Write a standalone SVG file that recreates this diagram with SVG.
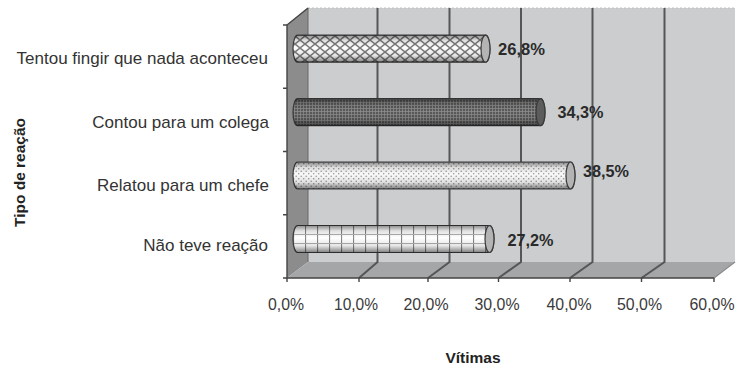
<svg xmlns="http://www.w3.org/2000/svg" width="737" height="365" viewBox="0 0 737 365">
<style>
.cat{font-family:"Liberation Sans",Arial,sans-serif;font-size:17px;fill:#333;text-anchor:end}
.ax{font-family:"Liberation Sans",Arial,sans-serif;font-size:16px;fill:#3a3a3a;text-anchor:middle}
.val{font-family:"Liberation Sans",Arial,sans-serif;font-size:16px;font-weight:bold;fill:#2a2a2a}
.ttl{font-family:"Liberation Sans",Arial,sans-serif;font-size:15.5px;font-weight:bold;fill:#222;text-anchor:middle}
.grid{stroke:#565656;stroke-width:2;fill:none}
.edge{stroke:#444;stroke-width:1.4;fill:none}
.bar{stroke:#3a3a3a;stroke-width:1.2}
.shade{fill:url(#cyl)}
</style>
<defs>
<pattern id="p1" patternUnits="userSpaceOnUse" width="10" height="8">
<rect width="10" height="8" fill="#fff"/>
<path d="M0,0L10,8M10,0L0,8" stroke="#7e7e7e" stroke-width="1.5"/>
</pattern>
<pattern id="p2" patternUnits="userSpaceOnUse" width="3" height="3">
<rect width="3" height="3" fill="#5a5a5a"/>
<path d="M0,0.5H3M0.5,0V3" stroke="#8e8e8e" stroke-width="0.8"/>
</pattern>
<pattern id="p3" patternUnits="userSpaceOnUse" width="5" height="5">
<rect width="5" height="5" fill="#fafafa"/>
<circle cx="1.2" cy="1.2" r="0.8" fill="#9a9a9a"/>
<circle cx="3.7" cy="3.7" r="0.8" fill="#9a9a9a"/>
</pattern>
<pattern id="p4" patternUnits="userSpaceOnUse" x="293" y="0" width="12" height="9">
<rect width="12" height="9" fill="#fff"/>
<path d="M0.5,0V9" stroke="#888" stroke-width="1.2"/>
<path d="M0,0.5H12" stroke="#b0b0b0" stroke-width="1"/>
</pattern>
<linearGradient id="cyl" x1="0" y1="0" x2="0" y2="1">
<stop offset="0" stop-color="#000" stop-opacity="0.45"/>
<stop offset="0.2" stop-color="#000" stop-opacity="0.12"/>
<stop offset="0.45" stop-color="#000" stop-opacity="0"/>
<stop offset="0.75" stop-color="#000" stop-opacity="0.1"/>
<stop offset="1" stop-color="#000" stop-opacity="0.5"/>
</linearGradient>
</defs>
<rect width="737" height="365" fill="#fff"/>
<g id="walls">
<rect x="308" y="8" width="427" height="254" fill="#cbcdcf"/>
<polygon points="287,25 308,8 308,262 287,278" fill="#8c8c8c"/>
<polygon points="287,278 308,262 735,262 714,278" fill="#a4a6a8"/>
<line x1="308" y1="8" x2="735" y2="8" stroke="#c0c0c0" stroke-width="1" stroke-dasharray="2,2"/>
<line x1="714" y1="278" x2="735" y2="262" stroke="#8a8a8a" stroke-width="1.2"/>
<line x1="308" y1="8" x2="308" y2="262" stroke="#666" stroke-width="1"/>
</g>
<g id="gridlines">
<path class="grid" d="M377.5,8V262L359,278M449.5,8V262L428,278M521,8V262L498.5,278M592.5,8V262L570,278M664.5,8V262L641.5,278"/>
</g>
<g id="axes">
<path class="edge" d="M287,278H714M287,25V278M287,25L308,8"/>
<path class="edge" d="M287,278V282M359,278V282M428,278V282M498.5,278V282M570,278V282M641.5,278V282M714,278V282"/>
<path class="edge" d="M283,25H287M283,88.3H287M283,151.5H287M283,214.8H287M283,278H287"/>
</g>
<g id="bar-tentou">
<path class="bar" fill="url(#p1)" d="M297.5,35.2H485.5A4.5,13.5 0 0 1 485.5,62.2H297.5A4.5,13.5 0 0 1 297.5,35.2Z"/>
<path class="shade" d="M297.5,35.2H485.5A4.5,13.5 0 0 1 485.5,62.2H297.5A4.5,13.5 0 0 1 297.5,35.2Z"/>
<ellipse class="bar" cx="485.5" cy="48.7" rx="4.5" ry="13.5" fill="#b4b4b4"/>
<text class="val" x="498" y="55" textLength="47" lengthAdjust="spacingAndGlyphs">26,8%</text>
</g>
<g id="bar-contou">
<path class="bar" fill="url(#p2)" d="M297.5,98.7H540.5A4.5,13.5 0 0 1 540.5,125.7H297.5A4.5,13.5 0 0 1 297.5,98.7Z"/>
<path class="shade" d="M297.5,98.7H540.5A4.5,13.5 0 0 1 540.5,125.7H297.5A4.5,13.5 0 0 1 297.5,98.7Z"/>
<ellipse class="bar" cx="540.5" cy="112.2" rx="4.5" ry="13.5" fill="#5c5c5c"/>
<text class="val" x="557.5" y="118" textLength="46" lengthAdjust="spacingAndGlyphs">34,3%</text>
</g>
<g id="bar-relatou">
<path class="bar" fill="url(#p3)" d="M297.5,162H570.5A4.5,13.5 0 0 1 570.5,189H297.5A4.5,13.5 0 0 1 297.5,162Z"/>
<path class="shade" d="M297.5,162H570.5A4.5,13.5 0 0 1 570.5,189H297.5A4.5,13.5 0 0 1 297.5,162Z"/>
<ellipse class="bar" cx="570.5" cy="175.5" rx="4.5" ry="13.5" fill="#b4b4b4"/>
<text class="val" x="583" y="177" textLength="46" lengthAdjust="spacingAndGlyphs">38,5%</text>
</g>
<g id="bar-nao">
<path class="bar" fill="url(#p4)" d="M297.5,225.5H489.5A4.5,13.5 0 0 1 489.5,252.5H297.5A4.5,13.5 0 0 1 297.5,225.5Z"/>
<path class="shade" d="M297.5,225.5H489.5A4.5,13.5 0 0 1 489.5,252.5H297.5A4.5,13.5 0 0 1 297.5,225.5Z"/>
<ellipse class="bar" cx="489.5" cy="239" rx="4.5" ry="13.5" fill="#b4b4b4"/>
<text class="val" x="507.5" y="246" textLength="46" lengthAdjust="spacingAndGlyphs">27,2%</text>
</g>
<g id="categories">
<text class="cat" x="268" y="64">Tentou fingir que nada aconteceu</text>
<text class="cat" x="269" y="127.5">Contou para um colega</text>
<text class="cat" x="269" y="190.5">Relatou para um chefe</text>
<text class="cat" x="268" y="251">Não teve reação</text>
</g>
<g id="x-labels">
<text class="ax" x="286" y="310" textLength="36" lengthAdjust="spacingAndGlyphs">0,0%</text>
<text class="ax" x="356" y="310" textLength="44" lengthAdjust="spacingAndGlyphs">10,0%</text>
<text class="ax" x="426" y="310" textLength="45" lengthAdjust="spacingAndGlyphs">20,0%</text>
<text class="ax" x="497" y="310" textLength="45" lengthAdjust="spacingAndGlyphs">30,0%</text>
<text class="ax" x="569" y="310" textLength="45" lengthAdjust="spacingAndGlyphs">40,0%</text>
<text class="ax" x="639.5" y="310" textLength="45" lengthAdjust="spacingAndGlyphs">50,0%</text>
<text class="ax" x="712" y="310" textLength="45" lengthAdjust="spacingAndGlyphs">60,0%</text>
</g>
<g id="titles">
<text class="ttl" x="473" y="363">Vítimas</text>
<text class="ttl" transform="translate(25,172.5) rotate(-90)" x="0" y="0">Tipo de reação</text>
</g>
</svg>
